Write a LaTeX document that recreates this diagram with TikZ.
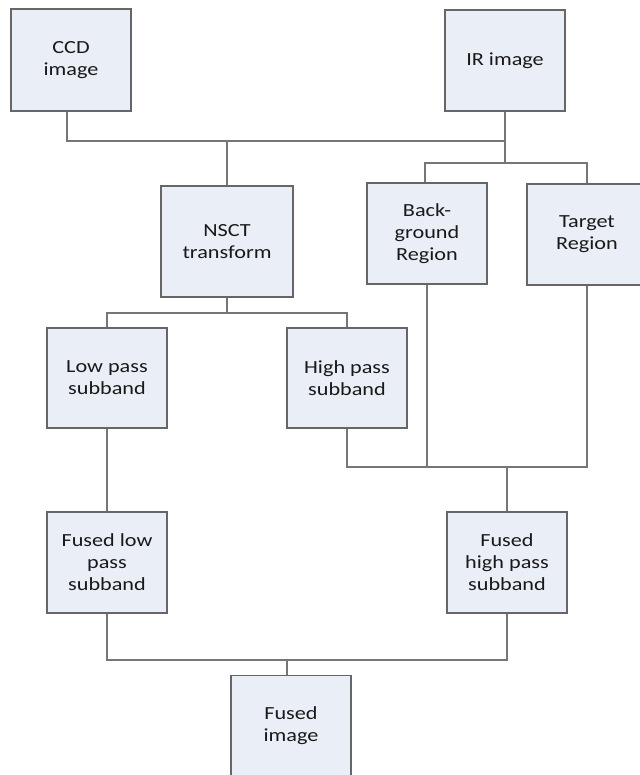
\documentclass[tikz,border=0pt]{standalone}
\usepackage{fontspec}
\setmainfont{Carlito}[FakeStretch=1.2]
\definecolor{boxfill}{HTML}{EAEFF7}
\definecolor{boxline}{HTML}{666666}
\definecolor{connline}{HTML}{767676}
\tikzset{
  stepbox/.style={draw=boxline, fill=boxfill, line width=1.4pt, align=center,
    inner sep=0pt, anchor=center, minimum width=120pt, minimum height=101pt,
    font=\fontsize{18.5}{22}\selectfont, text=black!90},
  conn/.style={draw=connline, line width=1.2pt}
}
\begin{document}
\begin{tikzpicture}[x=1pt,y=-1pt]
\useasboundingbox[fill=white] (0,0) rectangle (639,775);
% boxes
\node[stepbox, minimum height=102pt] (ccd) at (71,60) {CCD\\image};
\node[stepbox] (ir) at (505,60.5) {IR image};
\node[stepbox, minimum width=132pt, minimum height=111pt] (nsct) at (227,241.5) {NSCT\\transform};
\node[stepbox] (bg) at (427,233.5) {Back-\\ground\\Region};
\node[stepbox] (tg) at (587,234.5) {Target\\Region};
\node[stepbox, minimum height=100pt] (low) at (107,378) {Low pass\\subband};
\node[stepbox, minimum height=100pt] (high) at (347,378) {High pass\\subband};
\node[stepbox] (flow) at (107,562.5) {Fused low\\pass\\subband};
\node[stepbox] (fhigh) at (507,562.5) {Fused\\high pass\\subband};
\node[stepbox] (fimg) at (291,726) {Fused\\image};
% junction levels
\coordinate (jt) at (227,141);
\coordinate (br) at (0,163);
\coordinate (ns) at (0,313);
\coordinate (m) at (0,467);
\coordinate (f) at (0,660);
% connectors
\draw[conn] ([xshift=-4pt]ccd.south) |- (ir.south |- jt);
\draw[conn] (ir.south) -- (ir.south |- br);
\draw[conn] (jt) -- (nsct.north);
\draw[conn] ([xshift=-2pt]bg.north) |- (tg.north |- br) -- (tg.north);
\draw[conn] (nsct.south) -- (nsct.south |- ns);
\draw[conn] (low.north) |- (high.north |- ns) -- (high.north);
\draw[conn] (low.south) -- (flow.north);
\draw[conn] (high.south) |- (tg.south |- m) -- (tg.south);
\draw[conn] (bg.south) -- (bg.south |- m);
\draw[conn] (fhigh.north) -- (fhigh.north |- m);
\draw[conn] (flow.south) |- (fhigh.south |- f) -- (fhigh.south);
\draw[conn] ([xshift=-4pt]fimg.north) -- ([xshift=-4pt]fimg.north |- f);
\end{tikzpicture}
\end{document}
